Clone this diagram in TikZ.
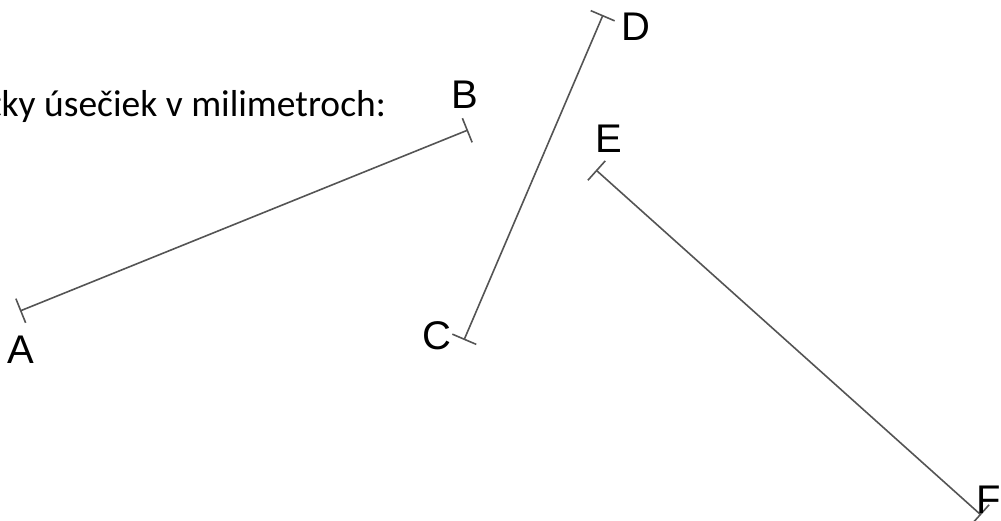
\documentclass[tikz,border=0pt]{standalone}
\usepackage{fontspec}
\setmainfont{Liberation Sans}
\newfontfamily\carl{Carlito}
\usetikzlibrary{arrows.meta}
\begin{document}
\begin{tikzpicture}[x=1pt,y=-1pt,
  seg/.style={draw=black!67,line width=1.6pt,{Bar[width=26pt]}-{Bar[width=26pt]}},
  lab/.style={inner sep=0pt,anchor=base,font=\fontsize{40}{48}\selectfont}]
\useasboundingbox (0,0) rectangle (1001,520);
\node[inner sep=0pt,anchor=base east,font=\carl\fontsize{37.5}{44}\selectfont] (txt) at (386,116) {tky úsečiek v milimetroch:};
\coordinate (a) at (20,311);
\coordinate (b) at (468,130);
\coordinate (c) at (464,340);
\coordinate (d) at (603,15);
\coordinate (e) at (596,170);
\coordinate (f) at (981,515);
\draw[seg] (a) -- (b);
\draw[seg] (c) -- (d);
\draw[seg] (e) -- (f);
\node[lab] (la) at (21,363) {A};
\node[lab] (lb) at (464.5,108) {B};
\node[lab] (lc) at (436.5,349) {C};
\node[lab] (ld) at (636,40) {D};
\node[lab] (le) at (608.5,152) {E};
\node[lab,anchor=base west] (lf) at (976,513) {F};
\end{tikzpicture}
\end{document}
